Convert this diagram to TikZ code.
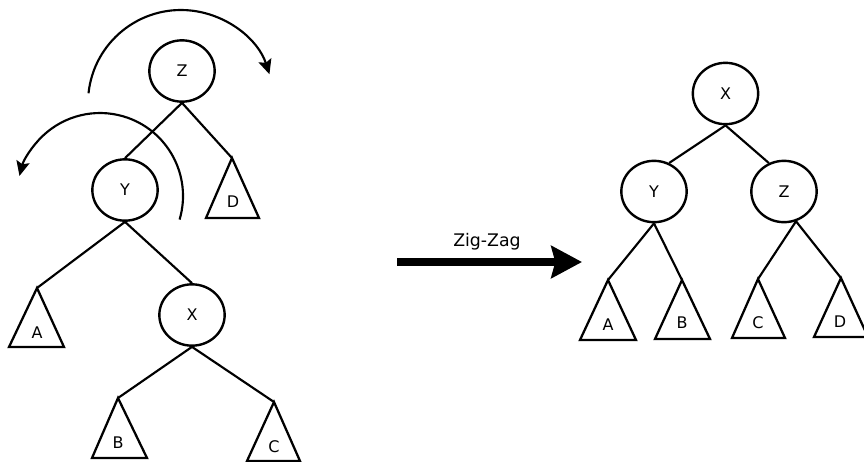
\documentclass[tikz,border=0pt]{standalone}
\usepackage{fontspec}
\setmainfont{DejaVu Sans}
\usetikzlibrary{arrows.meta,shapes.geometric}
\begin{document}
\begin{tikzpicture}[x=0.75pt,y=0.75pt,yscale=-1,xscale=1,
        vtx/.style={draw,ellipse,line width=1.8pt,minimum width=49pt,minimum height=46pt,inner sep=0pt,font=\fontsize{12}{14}\selectfont},
        tri/.style={line width=1.7pt,line join=miter},
        lbl/.style={inner sep=0pt,font=\fontsize{12}{14}\selectfont},
        link/.style={line width=1.6pt},
        turn/.style={line width=1.6pt,-{Stealth[length=11pt,width=10pt,inset=2pt]}},
        push/.style={line width=6pt,-{Stealth[length=23pt,width=24pt,inset=3pt]}}]
        \useasboundingbox (0,0) rectangle (864,461);

        %Shape: Circle
        \node[vtx] (LZ) at (182,71) {Z};
        %Shape: Circle
        \node[vtx] (LY) at (125,190) {Y};
        %Shape: Circle
        \node[vtx] (LX) at (192,315) {X};
        %Shape: Circle
        \node[vtx] (RX) at (725.5,93.5) {X};
        %Shape: Circle
        \node[vtx] (RY) at (654,191.5) {Y};
        %Shape: Circle
        \node[vtx] (RZ) at (784,191.5) {Z};

        %Shape: Triangle
        \coordinate (LD) at (232,158);
        \draw[tri] (LD) -- ++(-26,60) -- ++(53,0) -- cycle;
        %Shape: Triangle
        \coordinate (LA) at (37,288);
        \draw[tri] (LA) -- ++(-28,59) -- ++(55,0) -- cycle;
        %Shape: Triangle
        \coordinate (LB) at (118,398);
        \draw[tri] (LB) -- ++(-26,60) -- ++(55,0) -- cycle;
        %Shape: Triangle
        \coordinate (LC) at (274,402);
        \draw[tri] (LC) -- ++(-27,59) -- ++(53,0) -- cycle;
        %Shape: Triangle
        \coordinate (RA) at (608,280);
        \draw[tri] (RA) -- ++(-28,60) -- ++(56,0) -- cycle;
        %Shape: Triangle
        \coordinate (RB) at (682,280);
        \draw[tri] (RB) -- ++(-27,59) -- ++(55,0) -- cycle;
        %Shape: Triangle
        \coordinate (RC) at (758,279);
        \draw[tri] (RC) -- ++(-26,59) -- ++(53,0) -- cycle;
        %Shape: Triangle
        \coordinate (RD) at (841,278);
        \draw[tri] (RD) -- ++(-27,59) -- ++(54,0) -- cycle;

        %Straight Lines
        \draw[link] (LZ.south) -- (LY.north);
        \draw[link] (LZ.south) -- (LD);
        \draw[link] (LY.south) -- (LA);
        \draw[link] (LY.south) -- (LX.north);
        \draw[link] (LX.south) -- (LB);
        \draw[link] (LX.south) -- (LC);
        %Straight Lines
        \draw[link] (RX.south) -- (RY.62);
        \draw[link] (RX.south) -- (RZ.118);
        \draw[link] (RY.south) -- (RA);
        \draw[link] (RY.south) -- (RB);
        \draw[link] (RZ.-68) -- (RC);
        \draw[link] (RZ.-68) -- (RD);

        %Curve Lines
        \draw[turn] (181,103) ++(-174:93) arc[start angle=-174,end angle=-18,radius=93];
        %Curve Lines
        \draw[turn] (100,196) ++(16.5:83) arc[start angle=16.5,end angle=-166,radius=83];

        %Straight Lines
        \coordinate (pS) at (397,262);
        \coordinate (pE) at (582,262);
        \draw[push] (pS) -- (pE);

        % Text Node
        \node[lbl] (tLD) at (233,202) {D};
        % Text Node
        \node[lbl] (tLA) at (37,333) {A};
        % Text Node
        \node[lbl] (tLB) at (118,443) {B};
        % Text Node
        \node[lbl] (tLC) at (274,447) {C};
        % Text Node
        \node[lbl] (tRA) at (608,325) {A};
        % Text Node
        \node[lbl] (tRB) at (682,323) {B};
        % Text Node
        \node[lbl] (tRC) at (758,323) {C};
        % Text Node
        \node[lbl] (tRD) at (840,322) {D};
        % Text Node
        \node[lbl,anchor=base,font=\fontsize{13}{15}\selectfont] (tZZ) at (487,246) {Zig-Zag};
\end{tikzpicture}
\end{document}
